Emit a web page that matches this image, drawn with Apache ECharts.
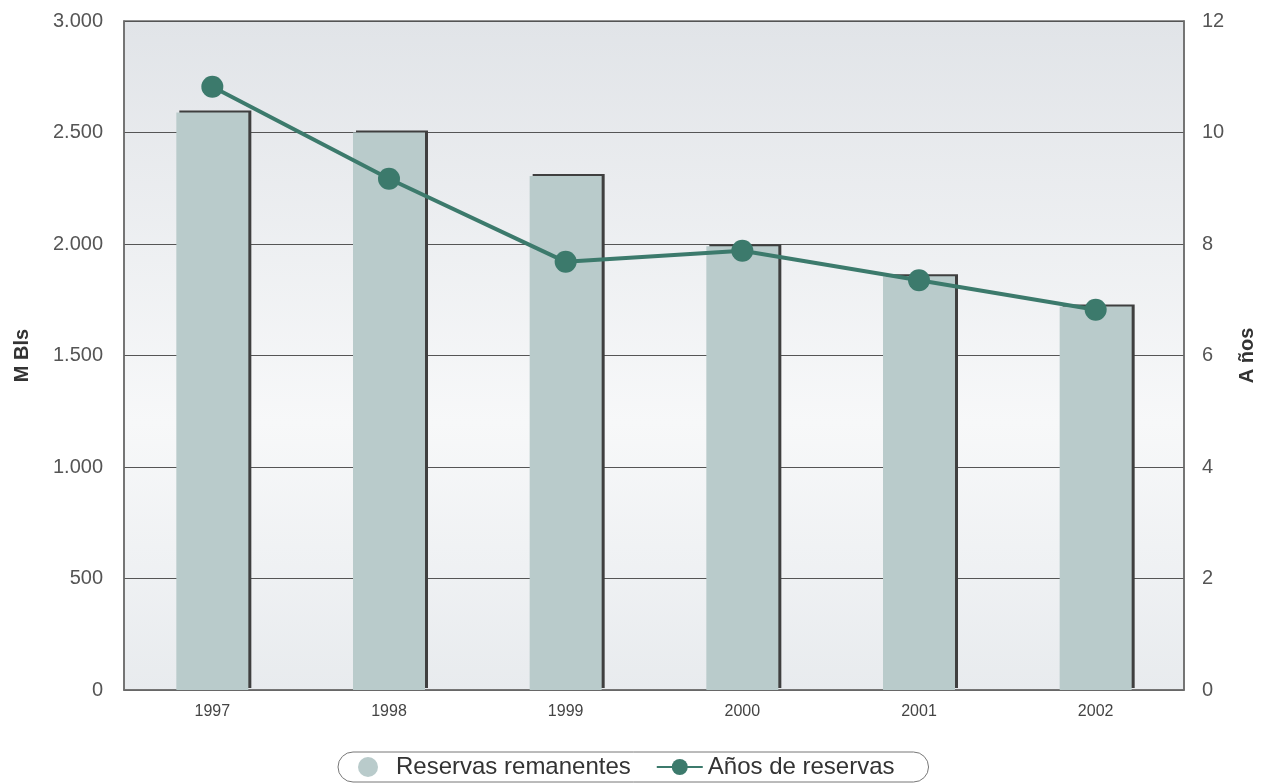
<!DOCTYPE html>
<html><head><meta charset="utf-8">
<script src="https://cdn.jsdelivr.net/npm/echarts@6/dist/echarts.min.js"></script>
<style>html,body{margin:0;padding:0;background:#fff}#c{width:1265px;height:784px}</style>
</head><body><div id="c"></div>
<script>
const years = ['1997','1998','1999','2000','2001','2002'];
const reservas = [2590, 2500, 2305, 1990, 1855, 1720];
const anios = [10.82, 9.17, 7.68, 7.88, 7.35, 6.82];
const leftTicksMax = 3000;
const rightTicksMax = 12;

function fmt(v){ return v >= 1000 ? Math.floor(v/1000) + '.' + String(v%1000).padStart(3,'0') : String(v); }

const FONT = 'Liberation Sans, Arial, sans-serif';
const chart = echarts.init(document.getElementById('c'));
chart.setOption({
  animation: false,
  grid: {
    left: 124, right: 76, top: 21, bottom: 94,
    show: true,
    borderColor: '#6d6d6d', borderWidth: 1.5,
    backgroundColor: {
      type: 'linear', x: 0, y: 0, x2: 0, y2: 1,
      colorStops: [
        {offset: 0, color: '#e1e4e8'},
        {offset: 0.6, color: '#f7f8f9'},
        {offset: 1, color: '#e8ebee'}
      ]
    }
  },
  legend: {
    left: 338, top: 752,
    itemGap: 25,
    padding: [3, 34, 3, 20],
    borderColor: '#777', borderWidth: 1, borderRadius: 16,
    textStyle: { fontFamily: FONT, fontSize: 24, color: '#333' },
    data: [
      { name: 'Reservas remanentes', icon: 'circle', itemStyle: {color: '#b9cbcb'} },
      { name: 'Años de reservas' }
    ],
    itemWidth: 46, itemHeight: 20
  },
  xAxis: {
    type: 'category', data: years,
    axisLine: { show: true, lineStyle: { color: '#6d6d6d', width: 1.5 } },
    axisTick: { show: false },
    axisLabel: { color: '#444', fontSize: 16, margin: 14, fontFamily: FONT }
  },
  yAxis: [
    {
      type: 'value', min: 0, max: leftTicksMax, interval: 500,
      name: 'M Bls', nameLocation: 'middle', nameGap: 92, nameRotate: 90,
      nameTextStyle: { fontWeight: 'bold', fontSize: 20, color: '#333', fontFamily: FONT },
      axisLine: { show: true, lineStyle: { color: '#6d6d6d', width: 1.5 } },
      axisTick: { show: false },
      axisLabel: { formatter: fmt, color: '#555', fontSize: 20, margin: 21, fontFamily: FONT },
      splitLine: { show: true, lineStyle: { color: '#555', width: 1 } }
    },
    {
      type: 'value', min: 0, max: rightTicksMax, interval: 2,
      name: 'A ños', nameLocation: 'middle', nameGap: 53, nameRotate: 90,
      nameTextStyle: { fontWeight: 'bold', fontSize: 20, color: '#333', fontFamily: FONT },
      axisLine: { show: true, lineStyle: { color: '#6d6d6d', width: 1.5 } },
      axisTick: { show: false },
      axisLabel: { color: '#555', fontSize: 20, margin: 18, fontFamily: FONT },
      splitLine: { show: false }
    }
  ],
  series: [
    {
      name: 'Reservas remanentes', type: 'bar', data: reservas, yAxisIndex: 0,
      barWidth: 72,
      itemStyle: {
        color: '#b9cbcb',
        shadowColor: '#3f3f3f', shadowBlur: 0, shadowOffsetX: 3, shadowOffsetY: -2
      }
    },
    {
      name: 'Años de reservas', type: 'line', data: anios, yAxisIndex: 1,
      symbol: 'circle', symbolSize: 22,
      lineStyle: { color: '#3c7a6c', width: 4 },
      itemStyle: { color: '#3c7a6c' }
    }
  ]
});
</script></body></html>
